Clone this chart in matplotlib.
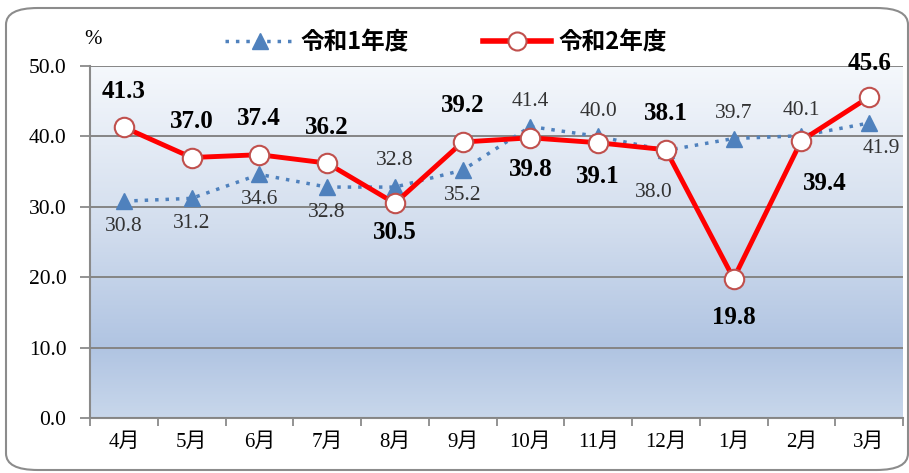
import numpy as np
import matplotlib.pyplot as plt
from matplotlib.colors import LinearSegmentedColormap
from matplotlib.patches import FancyBboxPatch
from matplotlib.lines import Line2D

# Data
months = ["4月", "5月", "6月", "7月", "8月", "9月", "10月", "11月", "12月", "1月", "2月", "3月"]
r1_values = [30.8, 31.2, 34.6, 32.8, 32.8, 35.2, 41.4, 40.0, 38.0, 39.7, 40.1, 41.9]
r2_values = [41.3, 37.0, 37.4, 36.2, 30.5, 39.2, 39.8, 39.1, 38.1, 19.8, 39.4, 45.6]
series_names = ["令和1年度", "令和2年度"]
y_ticks = [0, 10, 20, 30, 40, 50]

# label offsets from the point (points): (dx, dy)
r1_offsets = [(0, -18), (0, -18), (0, -18), (0, -18), (0, 19), (0, -18),
              (0, 18), (0, 18), (-9, -30), (0, 18), (0, 18), (9, -18)]
r2_offsets = [(0, 26), (0, 26), (0, 26), (0, 26), (0, -21), (0, 26),
              (0, -23), (0, -24), (0, 26), (0, -28), (17, -31), (0, 24)]

num_font = ["Liberation Serif", "Noto Sans CJK JP"]
jp_font = ["Noto Sans CJK JP", "DejaVu Sans"]

fig = plt.figure(figsize=(9.09, 4.73), dpi=100)
fig.patch.set_facecolor("white")

# rounded outer frame
frame = FancyBboxPatch((6 / 909, 3 / 473), 902 / 909, 462 / 473,
                       boxstyle="round,pad=0,rounding_size=0.035",
                       transform=fig.transFigure, facecolor="none",
                       edgecolor="#8c8c8c", linewidth=1.5, zorder=0)
fig.patches.append(frame)

ax = fig.add_axes([90 / 909, 1 - 418 / 473, 813 / 909, 352 / 473])
x = np.arange(len(months))

# gradient background
cmap = LinearSegmentedColormap.from_list(
    "bg", [(0.0, "#c8d7eb"), (0.2, "#b0c4e2"), (0.55, "#d3deee"), (1.0, "#f5f8fc")])
grad = np.linspace(0, 1, 256).reshape(-1, 1)
ax.imshow(grad, cmap=cmap, origin="lower", aspect="auto",
          extent=[-0.5, len(months) - 0.5, 0, 50], zorder=0)

ax.set_xlim(-0.5, len(months) - 0.5)
ax.set_ylim(0, 50)
ax.set_yticks(y_ticks)
ax.set_yticklabels([f"{v:.1f}" for v in y_ticks], fontfamily=num_font, fontsize=15.5)
ax.yaxis.grid(True, color="#858585", linewidth=1.4, zorder=1)
ax.set_axisbelow(False)

ax.set_xticks(np.arange(len(months) + 1) - 0.5)
ax.set_xticklabels([])
ax.set_xticks(x, minor=True)
ax.set_xticklabels(months, minor=True, fontfamily=num_font, fontsize=15)
ax.tick_params(axis="x", which="minor", length=0, pad=11)
ax.tick_params(axis="x", which="major", length=6, color="#8a8a8a", width=1.3)
ax.tick_params(axis="y", length=7, color="#8a8a8a", width=1.3, pad=10)

for side in ["top", "right"]:
    ax.spines[side].set_visible(False)
for side in ["left", "bottom"]:
    ax.spines[side].set_color("#8a8a8a")
    ax.spines[side].set_linewidth(1.5)

ax.plot(x, r1_values, linestyle=(0, (1, 2)), color="#4f81bd", linewidth=2.5,
        marker="^", markersize=11, markerfacecolor="#4f81bd",
        markeredgecolor="#4f81bd", zorder=3)
ax.plot(x, r2_values, color="#ff0000", linewidth=3.5, marker="o",
        markersize=14, markerfacecolor="white", markeredgecolor="#c0504d",
        markeredgewidth=1.5, zorder=4)

for i, v in enumerate(r1_values):
    ax.annotate(f"{v:.1f}", (x[i], v), xytext=r1_offsets[i],
                textcoords="offset points", ha="center", va="center",
                fontfamily=num_font, fontsize=15.5, color="#333333", zorder=5)
for i, v in enumerate(r2_values):
    ax.annotate(f"{v:.1f}", (x[i], v), xytext=r2_offsets[i],
                textcoords="offset points", ha="center", va="center",
                fontfamily=num_font, fontsize=18, fontweight="bold",
                color="black", zorder=5)

fig.text(93 / 909, 1 - 40 / 473, "%", fontfamily=num_font, fontsize=15,
         ha="center", va="center")

handles = [
    Line2D([], [], linestyle=(0, (1, 2)), color="#4f81bd", linewidth=2.5,
           marker="^", markersize=12, markerfacecolor="#4f81bd",
           markeredgecolor="#4f81bd"),
    Line2D([], [], color="#ff0000", linewidth=4, marker="o", markersize=13,
           markerfacecolor="white", markeredgecolor="#c0504d", markeredgewidth=1.5),
]
fig.legend(handles, series_names, loc="center", bbox_to_anchor=(446 / 909, 1 - 42 / 473),
           ncol=2, frameon=False, handlelength=2.9, handletextpad=0.3,
           columnspacing=3.1,
           prop={"family": jp_font, "size": 17, "weight": "bold"})

fig.savefig("out.png", dpi=100)
